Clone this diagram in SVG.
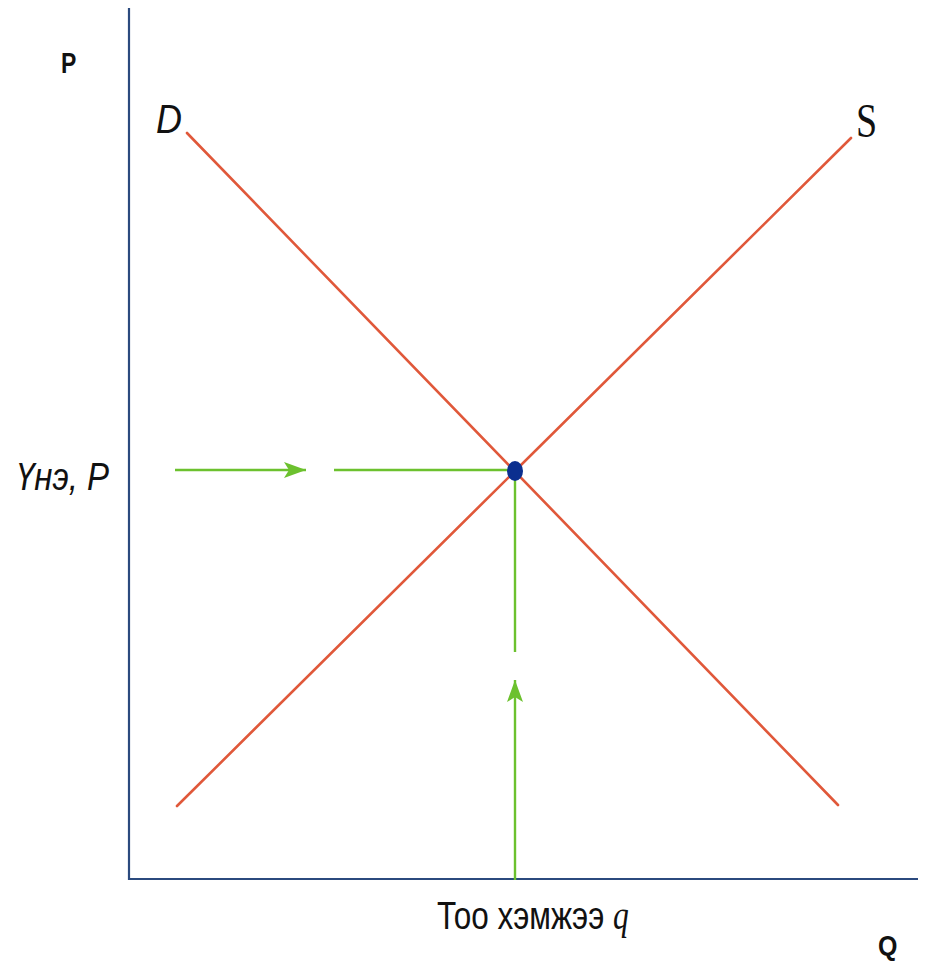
<svg xmlns="http://www.w3.org/2000/svg" width="931" height="961" viewBox="0 0 931 961">
<style>
.axis{stroke:#2b4a7e;stroke-width:2.2;fill:none}
.curve{stroke:#e0583a;stroke-width:2.6;fill:none;stroke-linecap:round}
.guide{stroke:#6cc12e;stroke-width:2.4;fill:none}
.sans{font-family:"Liberation Sans",Arial,sans-serif;fill:#111}
.serif{font-family:"Liberation Serif","Times New Roman",serif;fill:#111}
</style>
<defs>
<marker id="ah" viewBox="0 0 22 16" refX="22" refY="8" markerWidth="22" markerHeight="16" markerUnits="userSpaceOnUse" orient="auto">
<path d="M0,0 L22,8 L0,16 L5,8 Z" fill="#6cc12e"/>
</marker>
</defs>
<rect width="931" height="961" fill="#ffffff"/>
<g id="axes">
<line class="axis" x1="129" y1="8" x2="129" y2="880"/>
<line class="axis" x1="128" y1="879" x2="918" y2="879"/>
</g>
<g id="connectors">
<line id="demand" class="curve" x1="187" y1="133" x2="838" y2="805"/>
<line id="supply" class="curve" x1="177" y1="806" x2="851" y2="138"/>
<line class="guide" x1="175" y1="470" x2="306" y2="470" marker-end="url(#ah)"/>
<line class="guide" x1="334" y1="470" x2="515" y2="470"/>
<line class="guide" x1="515" y1="880" x2="515" y2="680" marker-end="url(#ah)"/>
<line class="guide" x1="515" y1="652" x2="515" y2="472"/>
</g>
<g id="equilibrium">
<ellipse cx="515" cy="471" rx="8" ry="10" fill="#0b2f8f"/>
</g>
<g id="labels">
<text class="sans" font-weight="bold" font-size="23" transform="translate(61,73) scale(1,1.3)">P</text>
<text class="sans" font-style="italic" font-size="36" transform="translate(156,133) scale(1,1.15)">D</text>
<text class="serif" font-size="38" transform="translate(856,137) scale(1,1.25)">S</text>
<text class="sans" font-style="italic" font-size="33" transform="translate(16,490) scale(1,1.2)">Үнэ, P</text>
<text class="sans" font-size="30" transform="translate(437,929) scale(1.05,1.3)">Тоо хэмжээ <tspan class="serif" font-style="italic">q</tspan></text>
<text class="sans" font-weight="bold" font-size="25" transform="translate(878,955) scale(1,1.1)">Q</text>
</g>
</svg>
